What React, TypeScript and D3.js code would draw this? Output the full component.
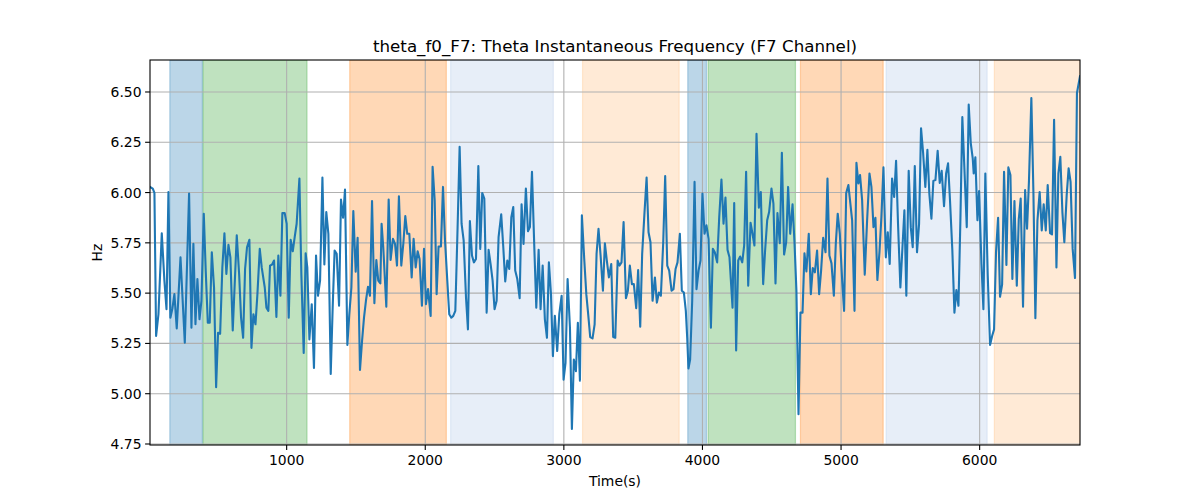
import * as d3 from "d3";

const times = [
  14, 34, 46, 58, 75, 99, 118, 133, 147, 161, 176, 190, 207, 234, 265, 296, 313, 327, 342, 356,
  371, 385, 402, 416, 431, 445, 460, 476, 491, 505, 520, 536, 551, 565, 580, 594, 611, 640, 657, 671,
  686, 700, 714, 731, 746, 760, 775, 789, 806, 820,
  842, 854, 868, 880, 895, 909, 926, 940, 955, 969, 986, 1000, 1015, 1029, 1044, 1058, 1072, 1092, 1106, 1123,
  1137, 1149, 1164, 1181, 1197, 1212, 1226, 1241, 1258, 1272, 1286, 1301, 1318, 1332, 1346, 1361, 1378, 1392, 1407, 1421,
  1438, 1452, 1467, 1481, 1498, 1512, 1529, 1544, 1558, 1572, 1587, 1601, 1616, 1633, 1647, 1661, 1676,
  1685, 1697, 1719, 1736, 1750, 1767, 1782, 1796, 1810, 1827, 1842, 1856, 1870, 1885, 1902, 1916, 1931, 1945, 1959, 1976,
  1991, 2005, 2020, 2039, 2053, 2068, 2082, 2096, 2113, 2128, 2142, 2159, 2173, 2188, 2202, 2217, 2233, 2248, 2262, 2277,
  2294, 2308, 2322, 2337, 2351, 2366, 2383, 2397, 2411, 2426, 2443, 2457, 2472, 2486, 2500, 2515,
  2529, 2548, 2563, 2577, 2592, 2606, 2621, 2635, 2649, 2664, 2681, 2695, 2709, 2726, 2741, 2755, 2770, 2786, 2801, 2818,
  2832, 2847, 2863, 2878, 2892, 2907, 2921, 2935, 2952, 2967, 2984, 2998, 3012, 3027, 3044, 3058, 3072, 3087, 3101, 3116,
  3130, 3147, 3162, 3176, 3190, 3207, 3222, 3236, 3250, 3265, 3282, 3296, 3310, 3325, 3342, 3356, 3371, 3388,
  3402, 3416, 3431, 3448, 3462, 3476, 3491, 3505, 3522, 3536, 3551, 3565, 3582, 3597, 3611, 3625, 3640, 3657, 3671, 3686,
  3700, 3717, 3731, 3746, 3760, 3777, 3791, 3806, 3820, 3837, 3851, 3866, 3880, 3890, 3899, 3911, 3926, 3943, 3957, 3972,
  3986, 4000, 4015, 4029, 4044, 4061, 4075, 4089, 4106, 4121, 4137, 4152, 4166, 4181, 4195,
  4217, 4229, 4243, 4258, 4272, 4287, 4301, 4315, 4330, 4347, 4361, 4375, 4390, 4407, 4421, 4438, 4452, 4467, 4481, 4498,
  4512, 4527, 4541, 4558, 4573, 4589, 4604, 4618, 4633, 4650, 4664, 4678, 4693, 4707, 4722, 4736, 4750, 4767, 4782, 4796,
  4811, 4827, 4842, 4856, 4871, 4888, 4902, 4916, 4931, 4948, 4962, 4976, 4991, 5008, 5022, 5037, 5053,
  5080, 5097, 5111, 5125, 5137, 5152, 5171, 5188, 5205, 5219, 5234, 5248, 5262, 5277, 5291, 5306, 5323, 5337, 5351, 5368,
  5383, 5397, 5411, 5428, 5443, 5457, 5471, 5488, 5503, 5517, 5532, 5548, 5563, 5577, 5592, 5608, 5623, 5637, 5652, 5666,
  5681, 5697, 5712, 5726, 5743, 5758, 5772, 5786, 5803, 5818, 5832, 5847, 5861, 5875,
  5907, 5921, 5936, 5950, 5957, 5969, 5984, 5996, 6013, 6027, 6041, 6058, 6075, 6090, 6104, 6118, 6133, 6147, 6162, 6176,
  6193, 6207, 6222, 6236, 6251, 6268, 6282, 6296, 6313, 6328, 6342, 6356, 6373, 6388, 6402, 6417, 6433, 6448, 6462, 6477,
  6491, 6508, 6522, 6537, 6554, 6568, 6582, 6597, 6611, 6628, 6642, 6656, 6671, 6688, 6702, 6724,
];

const hz = [
  6.028, 6.02, 5.998, 5.287, 5.395, 5.798, 5.56, 5.42, 6.003, 5.378, 5.425, 5.495, 5.325, 5.678, 5.253, 5.995, 5.328, 5.745, 5.345, 5.57,
  5.37, 5.462, 5.895, 5.612, 5.353, 5.353, 5.703, 5.528, 5.032, 5.303, 5.298, 5.628, 5.798, 5.595, 5.74, 5.678, 5.315, 5.787, 5.595, 5.378,
  5.278, 5.62, 5.728, 5.765, 5.228, 5.395, 5.345, 5.495, 5.72, 5.628,
  5.528, 5.428, 5.412, 5.637, 5.642, 5.662, 5.382, 5.687, 5.487, 5.898, 5.898, 5.845, 5.378, 5.765, 5.708, 5.778, 5.845, 6.07, 5.595, 5.203,
  5.698, 5.628, 5.27, 5.445, 5.128, 5.687, 5.487, 5.562, 6.075, 5.642, 5.903, 5.795, 5.098, 5.428, 5.712, 5.695, 5.437, 5.965, 5.875, 6.015,
  5.242, 5.395, 5.528, 5.908, 5.607, 5.775, 5.118, 5.262, 5.378, 5.462, 5.532, 5.487, 5.958, 5.45, 5.665, 5.562, 5.548,
  5.845, 5.728, 5.432, 5.965, 5.665, 5.77, 5.745, 5.637, 5.982, 5.637, 5.748, 5.883, 5.795, 5.795, 5.578, 5.77, 5.628, 5.708, 5.67, 5.437,
  5.72, 5.445, 5.52, 5.387, 6.128, 5.962, 5.495, 5.732, 5.732, 6.028, 5.77, 5.562, 5.395, 5.378, 5.387, 5.412, 5.82, 6.228, 5.845, 5.762,
  5.478, 5.32, 5.858, 5.687, 5.653, 5.67, 6.132, 5.72, 5.998, 5.97, 5.403, 5.715, 5.642, 5.562, 5.42, 5.462,
  5.778, 5.892, 5.728, 5.558, 5.662, 5.62, 5.878, 5.928, 5.612, 5.57, 5.475, 5.942, 5.745, 6.02, 5.808, 5.828, 6.103, 5.745, 5.428, 5.715,
  5.42, 5.637, 5.37, 5.278, 5.653, 5.495, 5.187, 5.387, 5.212, 5.395, 5.487, 5.07, 5.153, 5.57, 5.328, 4.825, 5.17, 5.112, 5.353, 5.065,
  5.887, 5.67, 5.495, 5.392, 5.282, 5.275, 5.345, 5.695, 5.82, 5.687, 5.512, 5.748, 5.662, 5.578, 5.645, 5.282, 5.278, 5.662,
  5.637, 5.653, 5.853, 5.475, 5.512, 5.637, 5.545, 5.545, 5.425, 5.615, 5.333, 5.695, 5.903, 6.075, 5.803, 5.753, 5.462, 5.578, 5.453, 5.503,
  5.487, 5.753, 6.082, 5.637, 5.612, 5.512, 5.52, 5.62, 5.653, 5.795, 5.512, 5.503, 5.412, 5.278, 5.125, 5.17, 5.462, 6.053, 5.52, 5.612,
  5.662, 5.995, 5.795, 5.837, 5.77, 5.328, 5.72, 5.703, 5.653, 5.878, 6.065, 5.845, 5.975, 5.715, 5.678,
  5.428, 5.948, 5.215, 5.662, 5.682, 5.653, 5.737, 6.103, 5.537, 5.85, 5.795, 5.737, 6.292, 5.925, 6.003, 5.545, 5.712, 5.862, 5.903, 6.02,
  5.945, 5.548, 5.898, 5.748, 6.198, 5.692, 5.753, 6.028, 5.795, 5.942, 5.753, 5.512, 4.898, 5.403, 5.403, 5.698, 5.608, 5.795, 5.495, 5.625,
  5.603, 5.712, 5.495, 5.612, 5.775, 5.703, 6.07, 5.687, 5.648, 5.487, 5.745, 5.895, 5.795, 5.562, 5.412, 5.998, 6.037,
  5.862, 5.412, 6.148, 6.045, 6.087, 5.962, 5.592, 5.862, 6.095, 6.028, 5.828, 5.875, 5.565, 5.703, 5.878, 6.125, 5.678, 5.803, 5.645, 6.07,
  5.978, 6.158, 5.845, 5.528, 5.728, 5.912, 5.487, 6.108, 5.828, 5.728, 6.132, 5.703, 5.845, 6.32, 6.198, 6.028, 6.212, 5.995, 5.87, 6.058,
  6.062, 6.208, 6.048, 6.108, 5.932, 6.095, 6.145, 5.962, 5.712, 5.403, 5.515, 5.437, 5.862, 6.375,
  5.828, 6.437, 6.245, 6.17, 6.095, 6.175, 5.862, 6.008, 5.645, 5.42, 6.095, 5.595, 5.242, 5.287, 5.32, 5.703, 5.875, 5.482, 5.542, 6.103,
  5.64, 6.125, 6.087, 5.57, 5.958, 5.537, 5.865, 5.97, 5.432, 6.012, 5.82, 6.062, 6.47, 5.995, 5.375, 5.862, 6.003, 5.812, 5.942, 5.812,
  6.037, 5.798, 5.792, 6.362, 5.628, 6.095, 6.178, 5.903, 5.753, 5.987, 6.12, 6.053, 5.72, 5.575, 6.495, 6.578,
];

// shaded segments
const bandStarts = [157, 397, 1455, 2183, 3135, 3894, 4041, 4707, 5325, 6106];
const bandEnds = [392, 1147, 2152, 2924, 3832, 4029, 4671, 5304, 6054, 6724];
const bandKinds = ["a", "b", "c", "d", "e", "a", "b", "c", "d", "e"];
const bandPalette: Record<string, string> = {
  a: "#1f77b4",
  b: "#2ca02c",
  c: "#ff7f0e",
  d: "#aec7e8",
  e: "#ffbb78",
};

const xTicks = [1000, 2000, 3000, 4000, 5000, 6000];
const yTicks = [4.75, 5.0, 5.25, 5.5, 5.75, 6.0, 6.25, 6.5];

const W = 1200;
const H = 500;
const margin = { left: 150, right: 120, top: 60, bottom: 55 };
const font = "'DejaVu Sans', sans-serif";

export default function App() {
  const x = d3
    .scaleLinear()
    .domain([times[0], times[times.length - 1]])
    .range([margin.left, W - margin.right]);
  const y = d3
    .scaleLinear()
    .domain([4.745, 6.659])
    .range([H - margin.bottom, margin.top]);

  const n = Math.min(times.length, hz.length);
  const pts = d3.range(n).map((i) => [times[i], hz[i]] as [number, number]);
  const line = d3
    .line<[number, number]>()
    .x((d) => x(d[0]))
    .y((d) => y(d[1]));

  const [x0, x1] = x.range();
  const [yb, yt] = y.range();

  return (
    <svg
      width={W}
      height={H}
      style={{ position: "absolute", left: 0, top: 0, background: "#fff" }}
      fontFamily={font}
    >
      <defs>
        <clipPath id="plot">
          <rect x={x0} y={yt} width={x1 - x0} height={yb - yt} />
        </clipPath>
      </defs>

      {bandStarts.map((s, i) => (
        <rect
          key={"b" + i}
          x={x(s)}
          y={yt}
          width={x(bandEnds[i]) - x(s)}
          height={yb - yt}
          fill={bandPalette[bandKinds[i]]}
          fillOpacity={0.3}
          stroke={bandPalette[bandKinds[i]]}
          strokeOpacity={0.3}
          strokeWidth={1.2}
          clipPath="url(#plot)"
        />
      ))}

      {xTicks.map((t) => (
        <line key={"gx" + t} x1={x(t)} x2={x(t)} y1={yt} y2={yb} stroke="#b0b0b0" strokeWidth={1.1} />
      ))}
      {yTicks.map((t) => (
        <line key={"gy" + t} x1={x0} x2={x1} y1={y(t)} y2={y(t)} stroke="#b0b0b0" strokeWidth={1.1} />
      ))}

      <path
        d={line(pts) ?? ""}
        fill="none"
        stroke="#1f77b4"
        strokeWidth={2.1}
        strokeLinejoin="round"
        strokeLinecap="square"
        clipPath="url(#plot)"
      />

      <rect x={x0} y={yt} width={x1 - x0} height={yb - yt} fill="none" stroke="#000" strokeWidth={1.1} />

      {xTicks.map((t) => (
        <g key={"tx" + t}>
          <line x1={x(t)} x2={x(t)} y1={yb} y2={yb + 4.9} stroke="#000" strokeWidth={1.1} />
          <text x={x(t)} y={yb + 20} textAnchor="middle" fontSize={13.9} fill="#000">
            {t}
          </text>
        </g>
      ))}
      {yTicks.map((t) => (
        <g key={"ty" + t}>
          <line x1={x0 - 4.9} x2={x0} y1={y(t)} y2={y(t)} stroke="#000" strokeWidth={1.1} />
          <text x={x0 - 8.5} y={y(t) + 5} textAnchor="end" fontSize={13.9} fill="#000">
            {t.toFixed(2)}
          </text>
        </g>
      ))}

      <text x={(x0 + x1) / 2} y={52} textAnchor="middle" fontSize={16.7} fill="#000">
        theta_f0_F7: Theta Instantaneous Frequency (F7 Channel)
      </text>
      <text x={(x0 + x1) / 2} y={486} textAnchor="middle" fontSize={13.9} fill="#000">
        Time(s)
      </text>
      <text
        transform={`translate(102, ${(yt + yb) / 2}) rotate(-90)`}
        textAnchor="middle"
        fontSize={13.9}
        fill="#000"
      >
        Hz
      </text>
    </svg>
  );
}
